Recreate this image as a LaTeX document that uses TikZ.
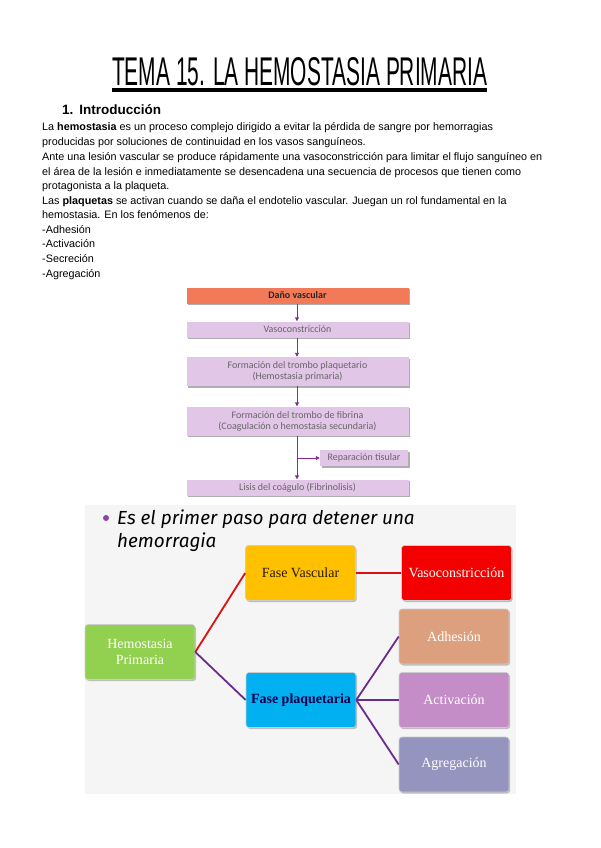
\documentclass[tikz,border=0pt]{standalone}
\usepackage{fontspec}
\setmainfont{Liberation Sans}
\newfontfamily\flowfont{Carlito}
\newfontfamily\cambria{Liberation Serif}
\newfontfamily\slidefont{Fira Sans}
\usetikzlibrary{arrows.meta,shadows}
\definecolor{dano}{HTML}{F37A58}
\definecolor{lav}{HTML}{E2C6E8}
\definecolor{arrowpurple}{HTML}{8A2A99}
\definecolor{slidebg}{HTML}{F5F5F5}
\definecolor{fvyellow}{HTML}{FFC000}
\definecolor{vred}{HTML}{F40000}
\definecolor{hgreen}{HTML}{92D050}
\definecolor{fpcyan}{HTML}{00B0F0}
\definecolor{adh}{HTML}{DDA07F}
\definecolor{act}{HTML}{C58DC8}
\definecolor{agr}{HTML}{9594BF}
\definecolor{linered}{HTML}{DD1010}
\definecolor{linepurple}{HTML}{6A2C8E}
\definecolor{bulletpurple}{HTML}{8E44A6}
\tikzset{
  bodyline/.style={anchor=base west, inner sep=0pt, font=\fontsize{10.8}{12}\selectfont},
  flowbox/.style={draw=none, fill=lav, minimum width=222pt, inner sep=1pt, align=center,
     font=\flowfont\fontsize{10}{11}\selectfont, text=black!60,
     drop shadow={shadow xshift=1.5pt, shadow yshift=-1.5pt, fill=black!45, opacity=0.7}},
  flowarrow/.style={draw=arrowpurple, line width=0.9pt, -{Triangle[length=4pt,width=4pt]}},
  slidebox/.style={rounded corners=3pt, draw=white!80!black, line width=0.6pt, minimum width=110pt,
     minimum height=55pt, align=center, font=\cambria\fontsize{14}{16}\selectfont, text=white,
     drop shadow={shadow xshift=1.2pt, shadow yshift=-1.5pt, fill=black!40, opacity=0.6}},
  slidetext/.style={anchor=base west, inner sep=0pt, font=\slidefont\itshape\fontsize{18.9}{21}\selectfont, text=black},
  redline/.style={draw=linered, line width=1.8pt},
  purpleline/.style={draw=linepurple, line width=1.8pt}
}
\begin{document}
\begin{tikzpicture}[x=1pt,y=-1pt]
\useasboundingbox[fill=white] (0,0) rectangle (600,848);
% Title
\node[anchor=south west, inner sep=0pt] (title) at (112,86) {\resizebox{375pt}{28pt}{TEMA 15. LA HEMOSTASIA PRIMARIA}};
\fill (112,88) rectangle (487,92);
% Heading
\node[anchor=base west, inner sep=0pt, font=\bfseries\fontsize{13.5}{15}\selectfont] (head) at (62,115) {1.\hspace{6pt}Introducción};
% Body text
\node[bodyline] (l1) at (42,131) {La \textbf{hemostasia} es un proceso complejo dirigido a evitar la pérdida de sangre por hemorragias};
\node[bodyline] (l2) at (42,145.5) {producidas por soluciones de continuidad en los vasos sanguíneos.};
\node[bodyline] (l3) at (42,160) {Ante una lesión vascular se produce rápidamente una vasoconstricción para limitar el flujo sanguíneo en};
\node[bodyline] (l4) at (42,175) {el área de la lesión e inmediatamente se desencadena una secuencia de procesos que tienen como};
\node[bodyline] (l5) at (42,189.5) {protagonista a la plaqueta.};
\node[bodyline] (l6) at (42,204) {Las \textbf{plaquetas} se activan cuando se daña el endotelio vascular. Juegan un rol fundamental en la};
\node[bodyline] (l7) at (42,218.5) {hemostasia. En los fenómenos de:};
\node[bodyline] (l8) at (42,233) {-Adhesión};
\node[bodyline] (l9) at (42,247.5) {-Activación};
\node[bodyline] (l10) at (42,262) {-Secreción};
\node[bodyline] (l11) at (42,277) {-Agregación};
% Flowchart
\node[flowbox, fill=dano, minimum height=16pt, text=black!85, font=\flowfont\bfseries\fontsize{10}{11}\selectfont] (dano) at (297.5,295.5) {Daño vascular};
\node[flowbox, minimum height=16pt] (vaso) at (297.5,329.5) {Vasoconstricción};
\node[flowbox, minimum height=29pt] (trombo) at (297.5,371.5) {Formación del trombo plaquetario\\(Hemostasia primaria)};
\node[flowbox, minimum height=29pt] (fibrina) at (297.5,421) {Formación del trombo de fibrina\\(Coagulación o hemostasia secundaria)};
\node[flowbox, minimum width=88pt, minimum height=16pt] (rep) at (364,458) {Reparación tisular};
\node[flowbox, minimum height=16pt] (lisis) at (297.5,487.5) {Lisis del coágulo (Fibrinolisis)};
\draw[flowarrow] (dano.south -| 297,0) -- (vaso.north -| 297,0);
\draw[flowarrow] (vaso.south -| 297,0) -- (trombo.north -| 297,0);
\draw[flowarrow] (trombo.south -| 297,0) -- (fibrina.north -| 297,0);
\draw[flowarrow] (fibrina.south -| 297,0) -- (lisis.north -| 297,0);
\coordinate (branch) at (297,458);
\draw[flowarrow] (branch) -- (rep.west);
% Slide
\fill[slidebg] (85,505) rectangle (516,794);
\fill[bulletpurple] (106,518) circle (3pt);
\node[slidetext] (s1) at (117,524) {Es el primer paso para detener una};
\node[slidetext] (s2) at (117,547) {hemorragia};
\node[slidebox, fill=hgreen] (hem) at (140,652) {Hemostasia\\Primaria};
\node[slidebox, fill=fvyellow, text=black!80!brown] (fv) at (300.5,573) {Fase Vascular};
\node[slidebox, fill=vred] (vc) at (456.5,573) {Vasoconstricción};
\node[slidebox, fill=fpcyan, text=black!70!blue, font=\cambria\bfseries\fontsize{14}{16}\selectfont] (fp) at (301,700) {Fase plaquetaria};
\node[slidebox, fill=adh] (ad) at (454,636.5) {Adhesión};
\node[slidebox, fill=act] (ac) at (454,700) {Activación};
\node[slidebox, fill=agr] (ag) at (454,764.5) {Agregación};
\draw[redline] (hem.east) -- (fv.west);
\draw[redline] (fv.east) -- (vc.west);
\draw[purpleline] (hem.east) -- (fp.west);
\draw[purpleline] (fp.east) -- (ad.west);
\draw[purpleline] (fp.east) -- (ac.west);
\draw[purpleline] (fp.east) -- (ag.west);
\end{tikzpicture}
\end{document}
